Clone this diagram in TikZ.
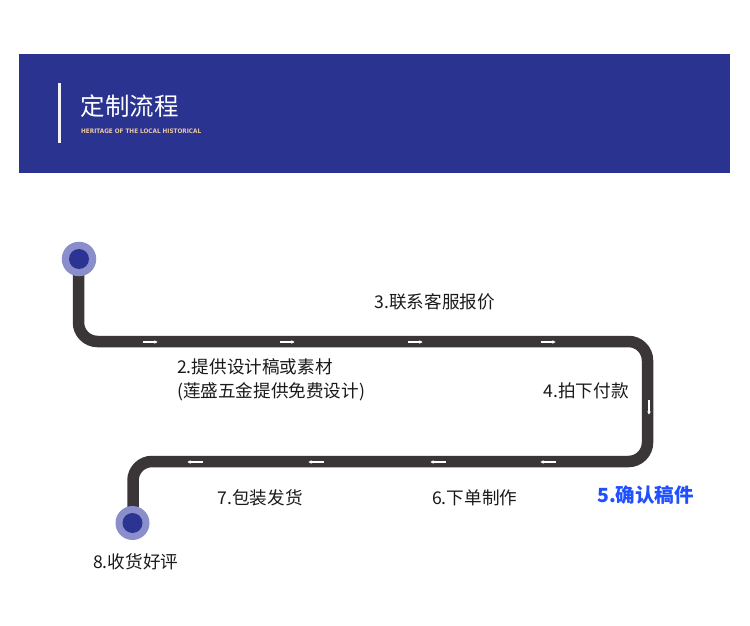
\documentclass[tikz,border=0pt]{standalone}
\usepackage{fontspec}
\usepackage{graphicx}
\newfontfamily\cjk{Noto Sans CJK SC}
\newfontfamily\subfont{DejaVu Sans}
\usetikzlibrary{arrows.meta}
\definecolor{banner}{HTML}{2B3391}
\definecolor{road}{HTML}{3A3637}
\definecolor{halo}{HTML}{8A8FCB}
\definecolor{dot}{HTML}{2B3393}
\definecolor{peach}{HTML}{EBC7A3}
\definecolor{hl}{HTML}{1F4FFF}
\definecolor{txt}{HTML}{1A1A1A}
\tikzset{
  roadline/.style={draw=road, line width=11.5pt, rounded corners=19pt},
  dirarrow/.style={draw=white, line width=1.1pt, -{Stealth[length=3.2pt,width=3.6pt]}},
  lbl/.style={anchor=west, inner sep=0pt, font=\cjk\fontsize{17.6}{20}\selectfont, text=txt},
  hlbl/.style={anchor=west, inner sep=0pt, font=\cjk\bfseries\fontsize{19.5}{22}\selectfont, text=hl},
}
\begin{document}
\begin{tikzpicture}[x=1pt,y=-1pt]
\useasboundingbox (0,0) rectangle (750,626);
\fill[white] (0,0) rectangle (750,626);
% banner
\fill[banner] (19,54) rectangle (730,172.5);
\fill[white!94!banner] (57.5,83) rectangle (61.2,143);
\node[anchor=west, inner sep=0pt, text=white, font=\cjk\fontsize{24.5}{26}\selectfont] (title) at (80.5,106) {定制流程};
\node[anchor=west, inner sep=0pt, text=peach] (sub) at (81,131) {\resizebox{120pt}{4.6pt}{\subfont\bfseries HERITAGE OF THE LOCAL HISTORICAL}};
% road
\coordinate (s) at (78.5,259);
\coordinate (c1) at (78.5,341.5);
\coordinate (c2) at (647.5,341.5);
\coordinate (c3) at (647.5,461.5);
\coordinate (c4) at (133,461.5);
\coordinate (e) at (133,523);
\draw[roadline] (s) -- (c1) -- (c2) -- (c3) -- (c4) -- (e);
% start and end markers
\node[circle, fill=halo, minimum size=34.5pt, inner sep=0pt] (start) at (79,259) {};
\node[circle, fill=dot, minimum size=20pt, inner sep=0pt] (startdot) at (79,259) {};
\node[circle, fill=halo, minimum size=34pt, inner sep=0pt] (finish) at (132.5,523) {};
\node[circle, fill=dot, minimum size=20pt, inner sep=0pt] (finishdot) at (132.5,523) {};
% direction arrows
\foreach \x [count=\i] in {150,287,415,548}{
  \coordinate (ta\i) at (\x-7.5,342);
  \coordinate (tb\i) at (\x+7.5,342);
  \draw[dirarrow] (ta\i) -- (tb\i);
}
\foreach \x [count=\i] in {195,316,438,548}{
  \coordinate (ba\i) at (\x+7.5,462);
  \coordinate (bb\i) at (\x-7.5,462);
  \draw[dirarrow] (ba\i) -- (bb\i);
}
\coordinate (ra) at (649,399.5);
\coordinate (rb) at (649,414.5);
\draw[dirarrow] (ra) -- (rb);
% labels
\node[lbl] (l3) at (374.5,301.5) {3.联系客服报价};
\node[lbl] (l2) at (177,367) {2.提供设计稿或素材};
\node[lbl] (l2b) at (177,392) {(莲盛五金提供免费设计)};
\node[lbl] (l4) at (543.5,390.5) {4.拍下付款};
\node[hlbl] (l5) at (597,495) {5.确认稿件};
\node[lbl] (l6) at (432,497.5) {6.下单制作};
\node[lbl] (l7) at (217.5,497.5) {7.包装发货};
\node[lbl] (l8) at (93,561.5) {8.收货好评};
\end{tikzpicture}
\end{document}
